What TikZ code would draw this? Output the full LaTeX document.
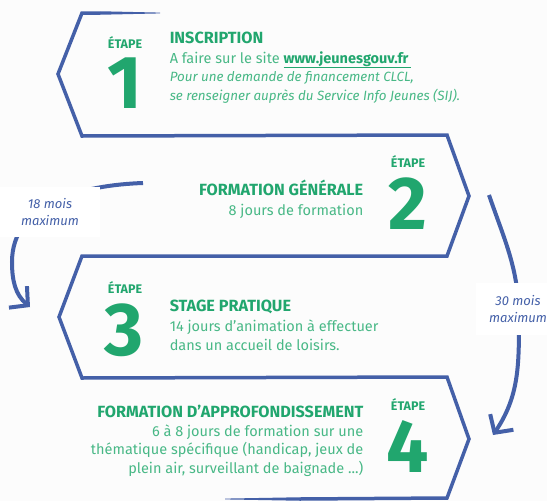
\documentclass[tikz,border=0pt]{standalone}
\usepackage{fontspec}
\setmainfont{Fira Sans}
\usepackage{xcolor}
\usetikzlibrary{arrows.meta}
\definecolor{vertfonce}{RGB}{33,166,110}
\definecolor{vertclair}{RGB}{72,184,134}
\definecolor{bleu}{RGB}{68,96,168}
\definecolor{fond}{RGB}{252,252,252}
\newcommand{\lien}[1]{{\color{vertfonce}\underline{\textbf{#1}\,}}}
\newcommand{\ital}[1]{{\fontsize{13.4}{18.5}\selectfont\itshape #1}}

\begin{document}
\begin{tikzpicture}[x=1pt, y=1pt, line width=3.5pt,
    etape/.style={text=vertfonce, font=\fontsize{12.5}{14}\selectfont\bfseries, inner sep=0pt, anchor=base},
    chiffre/.style={text=vertfonce, font=\fontsize{75}{75}\selectfont\bfseries, inner sep=0pt, anchor=base},
    titre/.style={text=vertfonce, font=\fontsize{16.2}{18}\selectfont\bfseries, inner sep=0pt},
    texte/.style={text=vertclair, font=\fontsize{14.5}{18.5}\selectfont, inner sep=0pt},
    duree/.style={text=bleu, font=\fontsize{13}{17}\selectfont\itshape, fill=white, inner sep=0pt, align=center},
    fleche/.style={draw=bleu, line width=4pt, -{Straight Barb[length=13pt,width=28pt]}}]
    % Fond.
    \fill[fond] (0,0) rectangle (547,-501);
    \useasboundingbox (0,0) rectangle (547,-501);

    % Bande.
    \draw[bleu, line join=miter] (100,-13) -- (82,-13) -- (58,-74) -- (82,-136) -- (447,-135) -- (469,-196) -- (447,-256)
        -- (82,-256) -- (59,-317) -- (82,-378) -- (447,-377) -- (469,-439) -- (447,-498) -- (300,-499);
    \fill[bleu] (100,-11.25) -- (160,-12.6) -- (160,-13.4) -- (100,-14.75) -- cycle;
    \fill[bleu] (300,-497.25) -- (225,-498.6) -- (225,-499.4) -- (300,-500.75) -- cycle;

    % Etapes.
    \node[etape] (e1) at (125,-48) {ÉTAPE};
    \node[chiffre] (c1) at (125,-108) {1};
    \node[etape] (e2) at (408,-167) {ÉTAPE};
    \node[chiffre] (c2) at (408,-229) {2};
    \node[etape] (e3) at (125,-293) {ÉTAPE};
    \node[chiffre] (c3) at (124,-355) {3};
    \node[etape] (e4) at (408,-410) {ÉTAPE};
    \node[chiffre] (c4) at (408,-472) {4};

    % Textes (base = derniere ligne).
    \node[titre, anchor=base west] (t1) at (168,-43) {INSCRIPTION};
    \node[texte, anchor=base west, align=left] (d1) at (168,-100) {A faire sur le site \lien{www.jeunesgouv.fr}\\
        \ital{Pour une demande de financement CLCL,}\\
        \ital{se renseigner auprès du Service Info Jeunes (SIJ).}};
    \node[titre, anchor=base east] (t2) at (365,-195) {FORMATION GÉNÉRALE};
    \node[texte, anchor=base east] (d2) at (365,-215) {8 jours de formation};
    \node[titre, anchor=base west] (t3) at (168,-311) {STAGE PRATIQUE};
    \node[texte, anchor=base west, align=left] (d3) at (168,-350) {14 jours d’animation à effectuer\\
        dans un accueil de loisirs.};
    \node[titre, anchor=base east] (t4) at (365,-417) {FORMATION D’APPROFONDISSEMENT};
    \node[texte, anchor=base east, align=right] (d4) at (365,-473) {6 à 8 jours de formation sur une\\
        thématique spécifique (handicap, jeux de\\
        plein air, surveillant de baignade ...)};

    % Durees.
    \coordinate (a18) at (143,-183);
    \coordinate (m18) at (12,-262);
    \coordinate (b18) at (30,-307);
    \draw[fleche] (a18) to[out=182,in=90] (m18) to[out=-90,in=140] (b18);
    \coordinate (a30) at (489,-195);
    \coordinate (m30) at (519,-320);
    \coordinate (b30) at (493,-435);
    \draw[fleche] (a30) to[out=-71,in=90] (m30) to[out=-90,in=56] (b30);
    \node[duree, minimum width=100pt, minimum height=50pt] (l18) at (50,-212) {18 mois\\ maximum};
    \node[duree, minimum width=84pt, minimum height=52pt] (l30) at (518,-309) {30 mois\\ maximum};
\end{tikzpicture}
\end{document}
